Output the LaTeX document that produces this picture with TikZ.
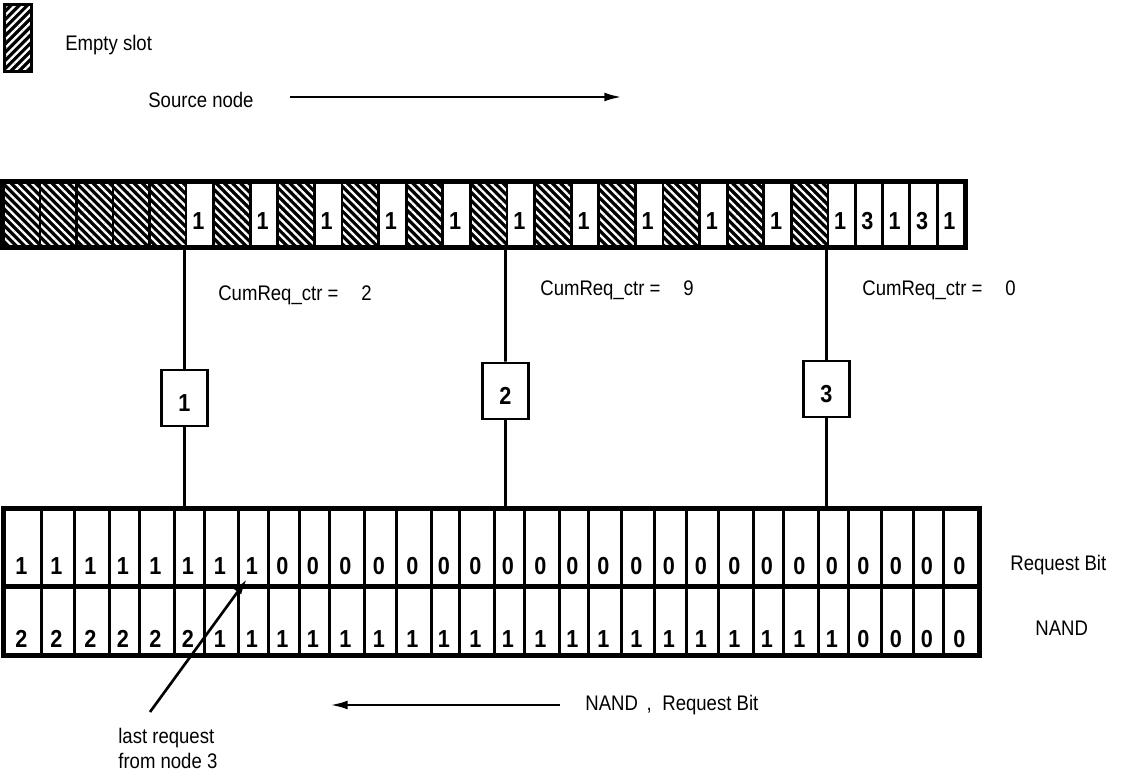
\documentclass[tikz,border=0pt]{standalone}
\usepackage{fontspec}
\setmainfont{Liberation Sans}[FakeStretch=0.88]
\usetikzlibrary{arrows.meta,positioning,patterns.meta}
\def\pxu{0.02cm}
\tikzset{slot/.style={draw=black,line width=1.6pt,inner sep=0pt,anchor=north west,minimum height=64*\pxu},
  fullslot/.style={slot,fill=white},
  emptyslot/.style={slot,preaction={fill=black},pattern={Lines[angle=-45,distance=3.3pt,line width=1.3pt]},pattern color=white},
  bitcell/.style={draw=black,line width=1.6pt,inner sep=0pt,anchor=north west},
  digit/.style={font=\fontsize{14}{16}\selectfont\bfseries,inner sep=0pt,anchor=base},
  ctrbox/.style={draw=black,line width=1.6pt,fill=white,inner sep=0pt,minimum width=46*\pxu,minimum height=56*\pxu},
  wire/.style={line width=1.5pt},
  txt/.style={font=\fontsize{12}{14}\selectfont,inner sep=0pt,anchor=west},
  flow/.style={line width=1.5pt,-{Latex[length=10pt,width=5pt]}}}

\begin{document}
\begin{tikzpicture}[x=0.02cm,y=-0.02cm]
\useasboundingbox (0,0) rectangle (1146,783);
% legend
\node[emptyslot,pattern={Lines[angle=45,distance=3.3pt,line width=1.3pt]},minimum width=27*\pxu,minimum height=67*\pxu] (legend) at (3,3) {};
\node[txt] (emptytxt) at (65,45) {Empty slot};
\node[txt] (srctxt) at (148,100) {Source node};
\coordinate (srcfrom) at (290,97);
\coordinate (srcto) at (622,97);
\draw[flow] (srcfrom) -- (srcto);
% slot ring seen from the source side
\foreach \i in {1,...,5}
  \node[emptyslot,minimum width=36.5*\pxu] (s\i) at ({2+(\i-1)*36.5},181) {};
\foreach \k in {0,...,9}{
  \pgfmathsetmacro\a{184.5+\k*64.2}
  \node[fullslot,minimum width=27.7*\pxu] (w\k) at (\a,181) {};
  \node[emptyslot,minimum width=36.5*\pxu] (h\k) at (\a+27.7,181) {};
  \node[digit] (wd\k) at (\a+13.85,230) {1};
}
\foreach \v [count=\j from 0] in {1,3,1,3,1}{
  \node[fullslot,minimum width=27.3*\pxu] (t\j) at (826.5+\j*27.3,181) {};
  \node[digit] (td\j) at (826.5+\j*27.3+13.65,230) {\v};
}
\draw[line width=2.4pt] (s1.north west) rectangle (t4.south east);
% nodes and their counters
\node[ctrbox] (n1) at (184.5,398) {};
\node[ctrbox] (n2) at (505.5,391) {};
\node[ctrbox] (n3) at (826.5,389) {};
\foreach \n in {1,2,3}
  \node[digit] (nd\n) at ([yshift=9pt]n\n.south) {\n};
\node[txt] (ctr1) at (218,295) {CumReq\_ctr =\hspace{13pt}2};
\node[txt] (ctr2) at (540,290) {CumReq\_ctr =\hspace{13pt}9};
\node[txt] (ctr3) at (862,290) {CumReq\_ctr =\hspace{13pt}0};
% request bit and NAND rows
\foreach \l/\r/\q/\m [count=\i] in {3/40/1/2,40/73/1/2,73/108/1/2,108/138/1/2,138/173/1/2,173/203/1/2,
  203/237/1/1,237/267/1/1,267/298/0/1,298/328/0/1,328/363/0/1,363/395/0/1,395/430/0/1,430/458/0/1,
  458/493/0/1,493/523/0/1,523/558/0/1,558/587/0/1,587/620/0/1,620/653/0/1,653/685/0/1,685/717/0/1,
  717/752/0/1,752/782/0/1,782/817/0/1,817/847/0/1,847/880/0/0,880/912/0/0,912/942/0/0,942/977/0/0}{
  \node[bitcell,minimum width={(\r-\l)*\pxu},minimum height=76*\pxu] (req\i) at (\l,508) {};
  \node[bitcell,minimum width={(\r-\l)*\pxu},minimum height=69*\pxu] (nand\i) at (\l,584) {};
  \node[digit] (reqd\i) at ({(\l+\r)/2},575) {\q};
  \node[digit] (nandd\i) at ({(\l+\r)/2},647) {\m};
}
\draw[line width=2.2pt] (req1.north west) rectangle (nand30.south east);
\draw[line width=3pt] (req1.south west) -- (req30.south east);
\node[txt] (reqtxt) at (1010,565) {Request Bit};
\node[txt] (nandtxt) at (1035,628) {NAND};
% connectors
\foreach \n/\c in {1/w0,2/w5,3/t0}{
  \draw[wire] (\c.south west) -- (n\n);
  \draw[wire] (n\n) -- (n\n |- req1.north);
}
% last request and direction
\node[txt,anchor=north west,align=left,font=\fontsize{12}{14}\selectfont] (lastreq) at (118,728) {last request\\from node 3};
\coordinate (lastfrom) at (150,712);
\coordinate (lastto) at (247,579);
\draw[flow,-{Latex[length=9pt,width=5pt]}] (lastfrom) -- (lastto);
\node[txt] (dirtxt) at (585,705) {NAND\hspace{5pt},\hspace{6pt}Request Bit};
\coordinate (dirfrom) at (560,705);
\coordinate (dirto) at (330,705);
\draw[flow] (dirfrom) -- (dirto);
\end{tikzpicture}
\end{document}
